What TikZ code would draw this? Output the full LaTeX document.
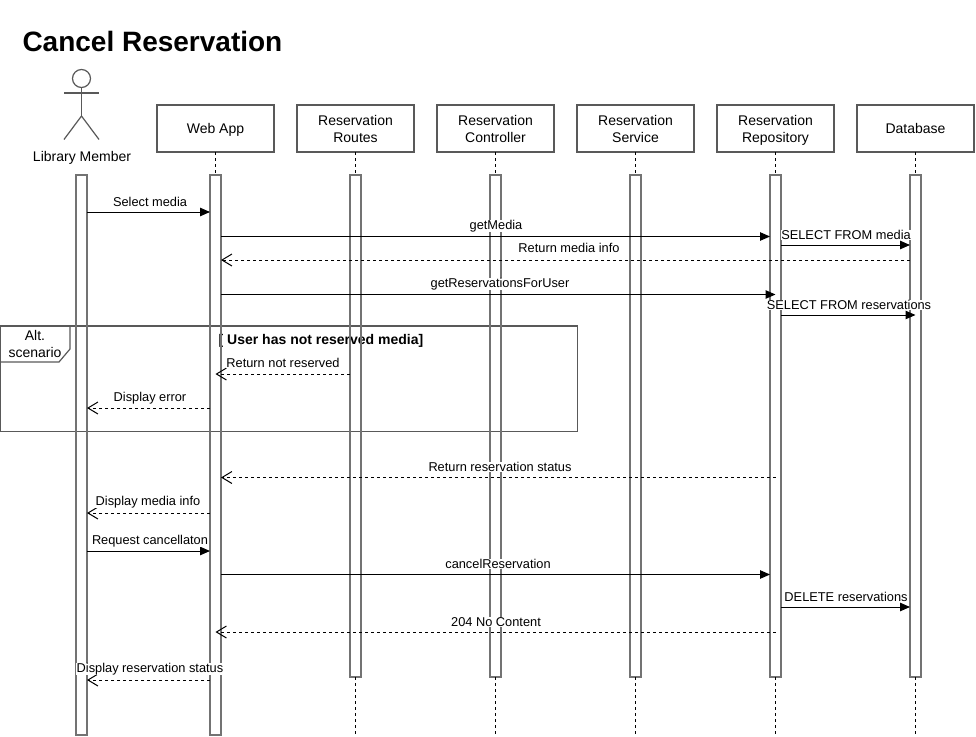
\documentclass[tikz,border=0pt]{standalone}
\usepackage{fontspec}
\setmainfont{Liberation Sans}
\usetikzlibrary{arrows.meta, positioning}
\begin{document}
\begin{tikzpicture}[
    x=1pt, y=-1pt,
    node distance=23pt,
    line width=1pt,
    part/.style={draw=black!65, line width=1.2pt, minimum width=117pt, minimum height=47pt,
                 outer sep=0pt, inner sep=0pt, align=center, font=\fontsize{14}{17}\selectfont,
                 text depth=0pt},
    shortbar/.style={draw=black!55, line width=1.2pt, minimum width=11pt, minimum height=502pt,
                     outer sep=0pt, below=23pt of #1},
    longbar/.style={draw=black!55, line width=1.2pt, minimum width=11pt, minimum height=560pt,
                    outer sep=0pt},
    life/.style={dash pattern=on 3pt off 3pt},
    call/.style={-{Triangle[length=10pt,width=8.5pt]}},
    reply/.style={dash pattern=on 3pt off 3pt, -{Straight Barb[length=10pt,width=12pt]}},
    frameline/.style={draw=black!65, line width=1.2pt},
    lab/.style={fill=white, inner sep=0.5pt, font=\fontsize{12.8}{13}\selectfont},
]
\useasboundingbox (0,0) rectangle (976,736);

\node[anchor=west, inner sep=0pt, font=\bfseries\fontsize{28}{32}\selectfont]
    (title) at (22,41.5) {Cancel Reservation};

% ── Alternative frame ──
\node[inner sep=0pt, font=\bfseries\fontsize{14}{16}\selectfont]
    (cond) at (321,341) {[ User has not reserved media]};
\draw[frameline] (0,326) rectangle (577.5,431.5);
\coordinate (tabtop) at (70,326);
\coordinate (tabcut) at (70,349);
\coordinate (tabfoot) at (59,362);
\coordinate (tabend) at (0,362);
\draw[frameline] (tabtop) -- (tabcut) -- (tabfoot) -- (tabend);
\node[align=center, inner sep=0pt, font=\fontsize{14}{17}\selectfont]
    (alt) at (35,344) {Alt.\\scenario};

% ── Actor ──
\node[draw=black!65, line width=1.2pt, circle, minimum size=18pt, inner sep=0pt, outer sep=0pt]
    (head) at (81.5,78.5) {};
\coordinate (hip) at (81.5,116);
\coordinate (armL) at (64,93);
\coordinate (armR) at (99,93);
\coordinate (legL) at (64,139.5);
\coordinate (legR) at (99,139.5);
\draw[frameline] (head.south) -- (hip);
\draw[frameline] (armL) -- (armR);
\draw[frameline] (legL) -- (hip) -- (legR);
\node[font=\fontsize{14}{17}\selectfont, inner sep=0pt] (member) at (82,157.5) {Library Member};

% ── Participants ──
\node[part] (web) at (215.5,128.5) {Web App};
\node[part, right=of web] (routes) {Reservation\\Routes};
\node[part, right=of routes] (controller) {Reservation\\Controller};
\node[part, right=of controller] (service) {Reservation\\Service};
\node[part, right=of service] (repository) {Reservation\\Repository};
\node[part, right=of repository] (database) {Database};

% ── Activation bars ──
\node[longbar] (memberbar) at (81.5,455) {};
\node[longbar, below=23pt of web] (webbar) {};
\node[shortbar=routes] (routesbar) {};
\node[shortbar=controller] (controllerbar) {};
\node[shortbar=service] (servicebar) {};
\node[shortbar=repository] (repositorybar) {};
\node[shortbar=database] (databasebar) {};

% ── Lifelines ──
\foreach \who in {web, routes, controller, service, repository, database} {
    \draw[life] (\who.south) -- (\who bar.north);
}
\foreach \who in {routes, controller, service, repository, database} {
    \coordinate (\who end) at (\who bar.south |- 0,736);
    \draw[life] (\who bar.south) -- (\who end);
}

% ── Messages ──
\draw[call] (memberbar.east |- 0,212) -- (webbar.west |- 0,212);
\draw[call] (webbar.east |- 0,236.5) -- (repositorybar.west |- 0,236.5);
\draw[call] (repositorybar.east |- 0,245) -- (databasebar.west |- 0,245);
\draw[reply] (databasebar.west |- 0,260) -- (webbar.east |- 0,260);
\draw[call] (webbar.east |- 0,294.5) -- (repositorybar.center |- 0,294.5);
\draw[call] (repositorybar.east |- 0,315) -- (databasebar.center |- 0,315);
\draw[reply] (routesbar.west |- 0,374) -- (webbar.center |- 0,374);
\draw[reply] (webbar.west |- 0,408) -- (memberbar.east |- 0,408);
\draw[reply] (repositorybar.center |- 0,477.5) -- (webbar.east |- 0,477.5);
\draw[reply] (webbar.west |- 0,513) -- (memberbar.east |- 0,513);
\draw[call] (memberbar.east |- 0,551) -- (webbar.west |- 0,551);
\draw[call] (webbar.east |- 0,574.5) -- (repositorybar.west |- 0,574.5);
\draw[call] (repositorybar.east |- 0,607) -- (databasebar.west |- 0,607);
\draw[reply] (repositorybar.center |- 0,632) -- (webbar.center |- 0,632);
\draw[reply] (webbar.west |- 0,680) -- (memberbar.east |- 0,680);

% ── Message labels ──
\node[lab] (m1) at (150,202) {Select media};
\node[lab] (m2) at (496,226) {getMedia};
\node[lab] (m3) at (846,235) {SELECT FROM media};
\node[lab] (m4) at (569,248) {Return media info};
\node[lab] (m5) at (500,284) {getReservationsForUser};
\node[lab] (m6) at (849,305) {SELECT FROM reservations};
\node[lab] (m7) at (283,363) {Return not reserved};
\node[lab] (m8) at (150,398) {Display error};
\node[lab] (m9) at (500,467) {Return reservation status};
\node[lab] (m10) at (148,502) {Display media info};
\node[lab] (m11) at (150,541) {Request cancellaton};
\node[lab] (m12) at (498,564) {cancelReservation};
\node[lab] (m13) at (846,597) {DELETE reservations};
\node[lab] (m14) at (496,622) {204 No Content};
\node[lab] (m15) at (150,669) {Display reservation status};
\end{tikzpicture}
\end{document}
